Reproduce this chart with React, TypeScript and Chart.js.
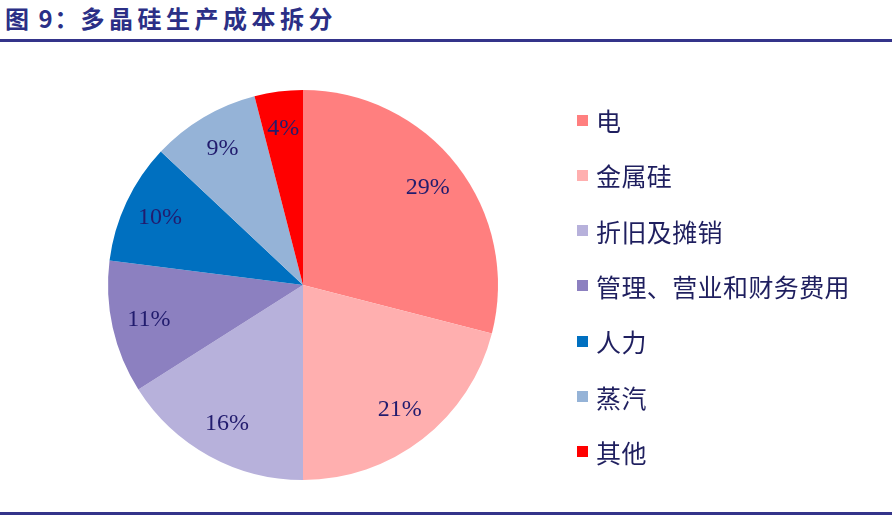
import React, { useEffect, useRef } from "react";
import { Chart, registerables } from "chart.js";

Chart.register(...registerables);

const TITLE_PREFIX = "图 9：";
const TITLE_TEXT = "多晶硅生产成本拆分";
const categories = ["电", "金属硅", "折旧及摊销", "管理、营业和财务费用", "人力", "蒸汽", "其他"];
const shares = [29, 21, 16, 11, 10, 9, 4];
const sliceColors = ["#FF7F7F", "#FFAFAF", "#B7B1DB", "#8C80C0", "#0070C0", "#95B3D7", "#FF0000"];

const pieLabelPlugin = {
  id: "pieLabels",
  afterDatasetsDraw(chart: any) {
    const ctx = chart.ctx;
    const meta = chart.getDatasetMeta(0);
    ctx.save();
    ctx.font = "24px 'Liberation Serif', 'Times New Roman', serif";
    ctx.fillStyle = "#221C6E";
    ctx.textAlign = "center";
    ctx.textBaseline = "middle";
    meta.data.forEach((arc: any, i: number) => {
      const p = arc.getProps(["x", "y", "startAngle", "endAngle", "outerRadius"], true);
      const mid = (p.startAngle + p.endAngle) / 2;
      const r = p.outerRadius * 0.81;
      ctx.fillText(shares[i] + "%", p.x + Math.cos(mid) * r, p.y + Math.sin(mid) * r);
    });
    ctx.restore();
  },
};

export default function App() {
  const ref = useRef<HTMLCanvasElement | null>(null);
  useEffect(() => {
    document.body.style.margin = "0";
    if (!ref.current) return;
    const chart = new Chart(ref.current, {
      type: "pie",
      data: {
        labels: categories,
        datasets: [
          {
            data: shares,
            backgroundColor: sliceColors,
            borderWidth: 0,
          },
        ],
      },
      options: {
        animation: false,
        responsive: false,
        maintainAspectRatio: false,
        layout: { padding: { top: 45, bottom: 35, left: 61, right: 347 } },
        plugins: {
          tooltip: { enabled: false },
          legend: { display: false },
        },
      },
      plugins: [pieLabelPlugin],
    });
    return () => chart.destroy();
  }, []);

  return (
    <div style={{ position: "relative", width: 892, height: 516, background: "#fff", overflow: "hidden" }}>
      <div
        style={{
          position: "absolute",
          left: 5,
          top: 3,
          fontFamily: "'Noto Sans CJK SC', sans-serif",
          fontWeight: 700,
          fontSize: 24,
          color: "#2B2F86",
          lineHeight: "30px",
          whiteSpace: "nowrap",
        }}
      >
        <span style={{ letterSpacing: 2 }}>{TITLE_PREFIX}</span>
        <span style={{ letterSpacing: 4.5 }}>{TITLE_TEXT}</span>
      </div>
      <div style={{ position: "absolute", left: 0, top: 39, width: 892, height: 3, background: "#34348A" }} />
      <canvas ref={ref} width={892} height={470} style={{ position: "absolute", left: 0, top: 45, width: 892, height: 470 }} />
      {categories.map((c, i) => (
        <div
          key={c}
          style={{
            position: "absolute",
            left: 577,
            top: 120 + i * 55.3 - 15,
            height: 30,
            display: "flex",
            alignItems: "center",
            whiteSpace: "nowrap",
          }}
        >
          <span style={{ display: "inline-block", width: 11, height: 11, background: sliceColors[i], marginRight: 8 }} />
          <span
            style={{
              fontFamily: "'Noto Sans CJK SC', sans-serif",
              fontSize: 25,
              lineHeight: "30px",
              color: "#1F1F5F",
              letterSpacing: 0.4,
            }}
          >
            {c}
          </span>
        </div>
      ))}
      <div style={{ position: "absolute", left: 0, top: 512, width: 892, height: 3, background: "#34348A" }} />
    </div>
  );
}
